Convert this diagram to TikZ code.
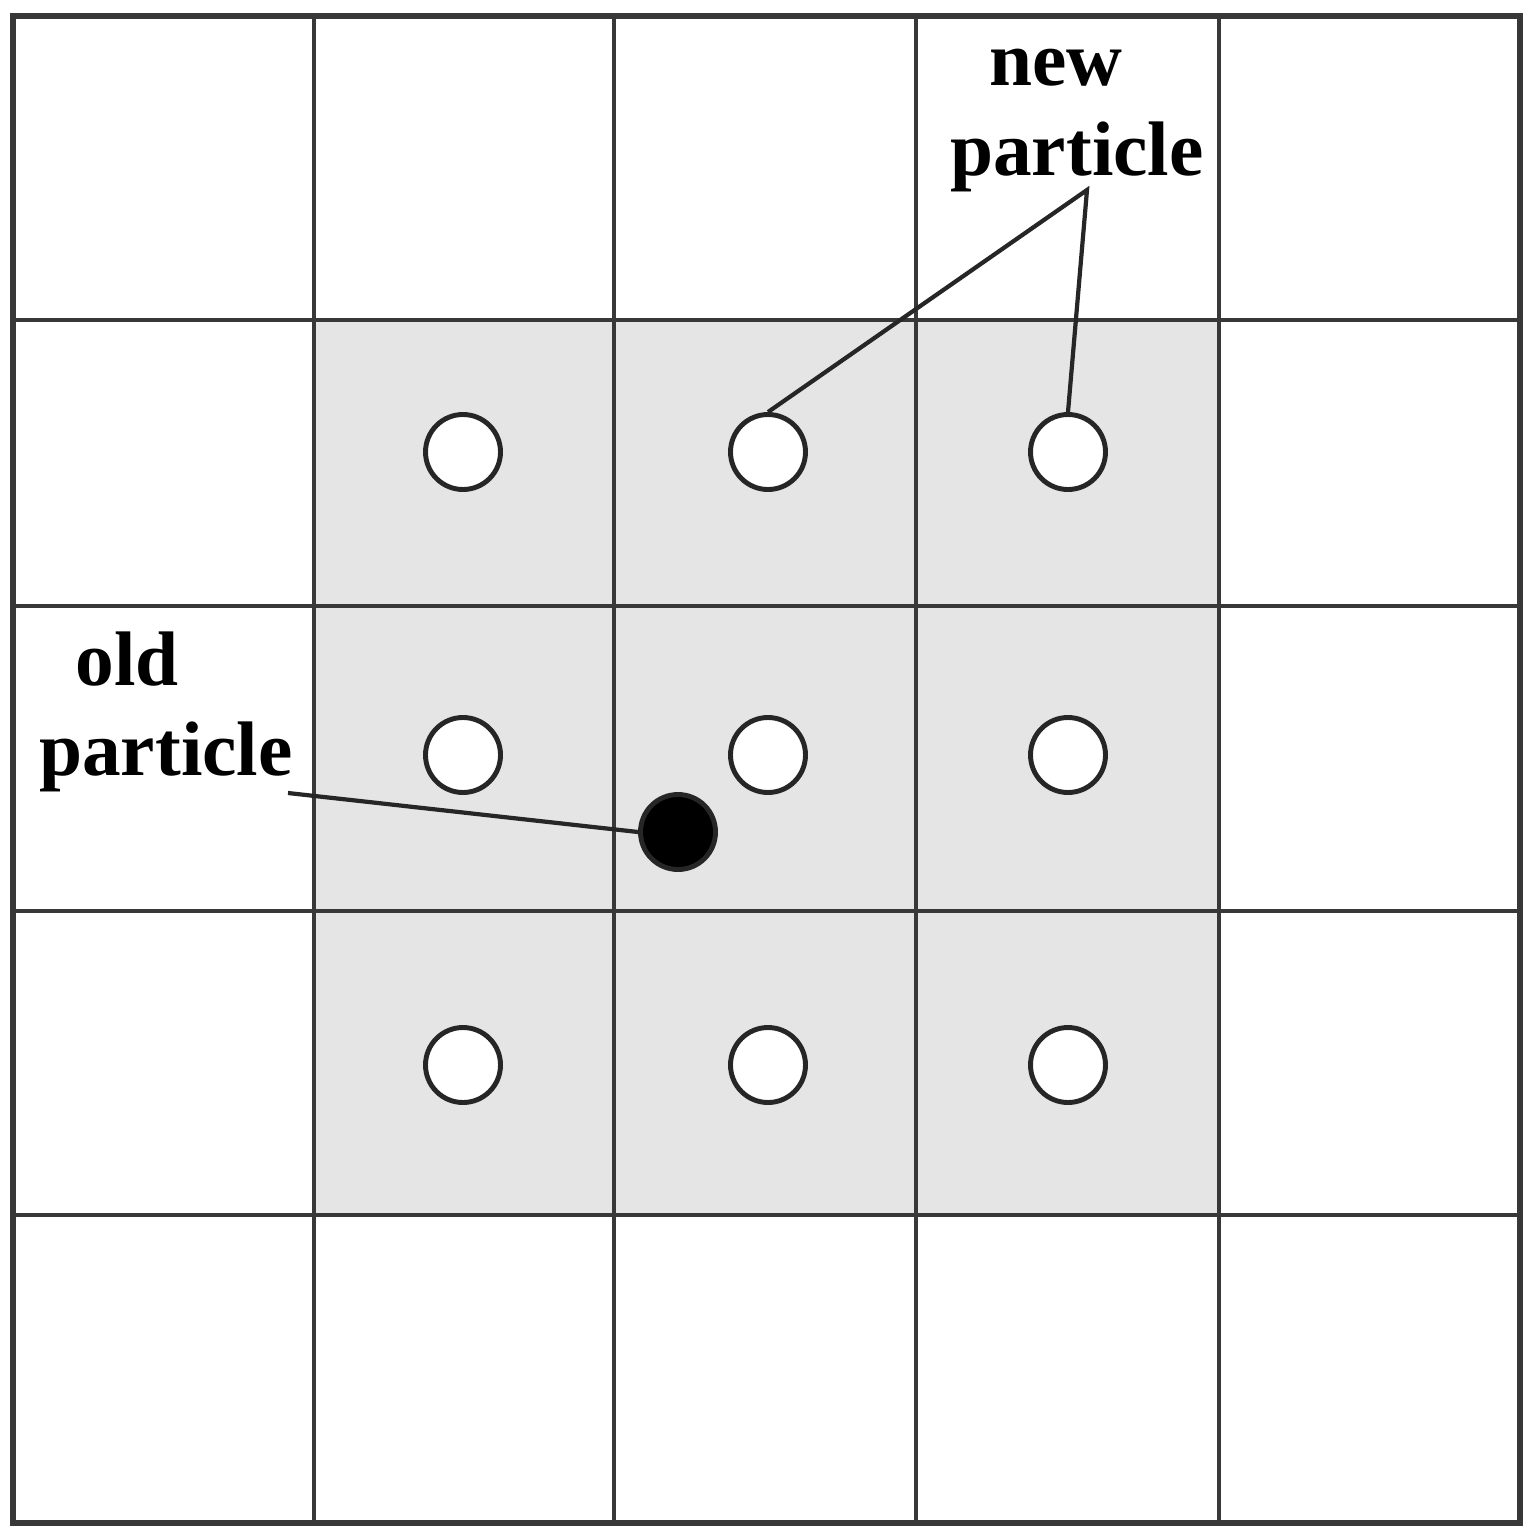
\documentclass[tikz,border=0pt]{standalone}
\usepackage{fontspec}
\setmainfont{Liberation Serif}
\usetikzlibrary{positioning}
\definecolor{gridgray}{HTML}{383838}
\definecolor{cellshade}{HTML}{E5E5E5}

\begin{document}
\begin{tikzpicture}[x=0.1mm, y=-0.1mm]
	\tikzset{grid line/.style={draw=gridgray, line width=1.35pt},
		newp/.style={circle, draw=black!85, line width=1.4pt, fill=white, minimum size=7.5mm, inner sep=0pt},
		oldp/.style={newp, fill=black},
		lbl/.style={font=\bfseries\fontsize{22}{26}\selectfont, inner sep=0pt, anchor=base},
		lead/.style={draw=black!85, line width=1.2pt} }

	\useasboundingbox (0,0) rectangle (1538,1540);
	\fill[cellshade] (314,320) rectangle (1219,1215);
	\foreach \x in {314,614,916,1219} \draw[grid line] (\x,16) -- (\x,1523);
	\foreach \y in {320,606,911,1215} \draw[grid line] (13,\y) -- (1520,\y);
	\draw[grid line, line width=1.7pt] (13,16) rectangle (1520,1523);

	\foreach \y [count=\r] in {452,755,1065}
		\foreach \x [count=\c] in {463,768,1068}
			\node[newp] (n\r\c) at (\x,\y) {};
	\node[oldp] (old) at (678,832) {};

	\node[lbl] (newa) at (1056,85) {new};
	\node[lbl] (newb) at (1077,175) {particle};
	\node[lbl] (olda) at (127,685) {old};
	\node[lbl] (oldb) at (166,775) {particle};

	\coordinate (newtip) at (1087,190);
	\coordinate (oldtip) at (288,793);
	\draw[lead] (n12.north) -- (newtip) -- (n13.north);
	\draw[lead] (oldtip) -- (old.west);
\end{tikzpicture}
\end{document}
